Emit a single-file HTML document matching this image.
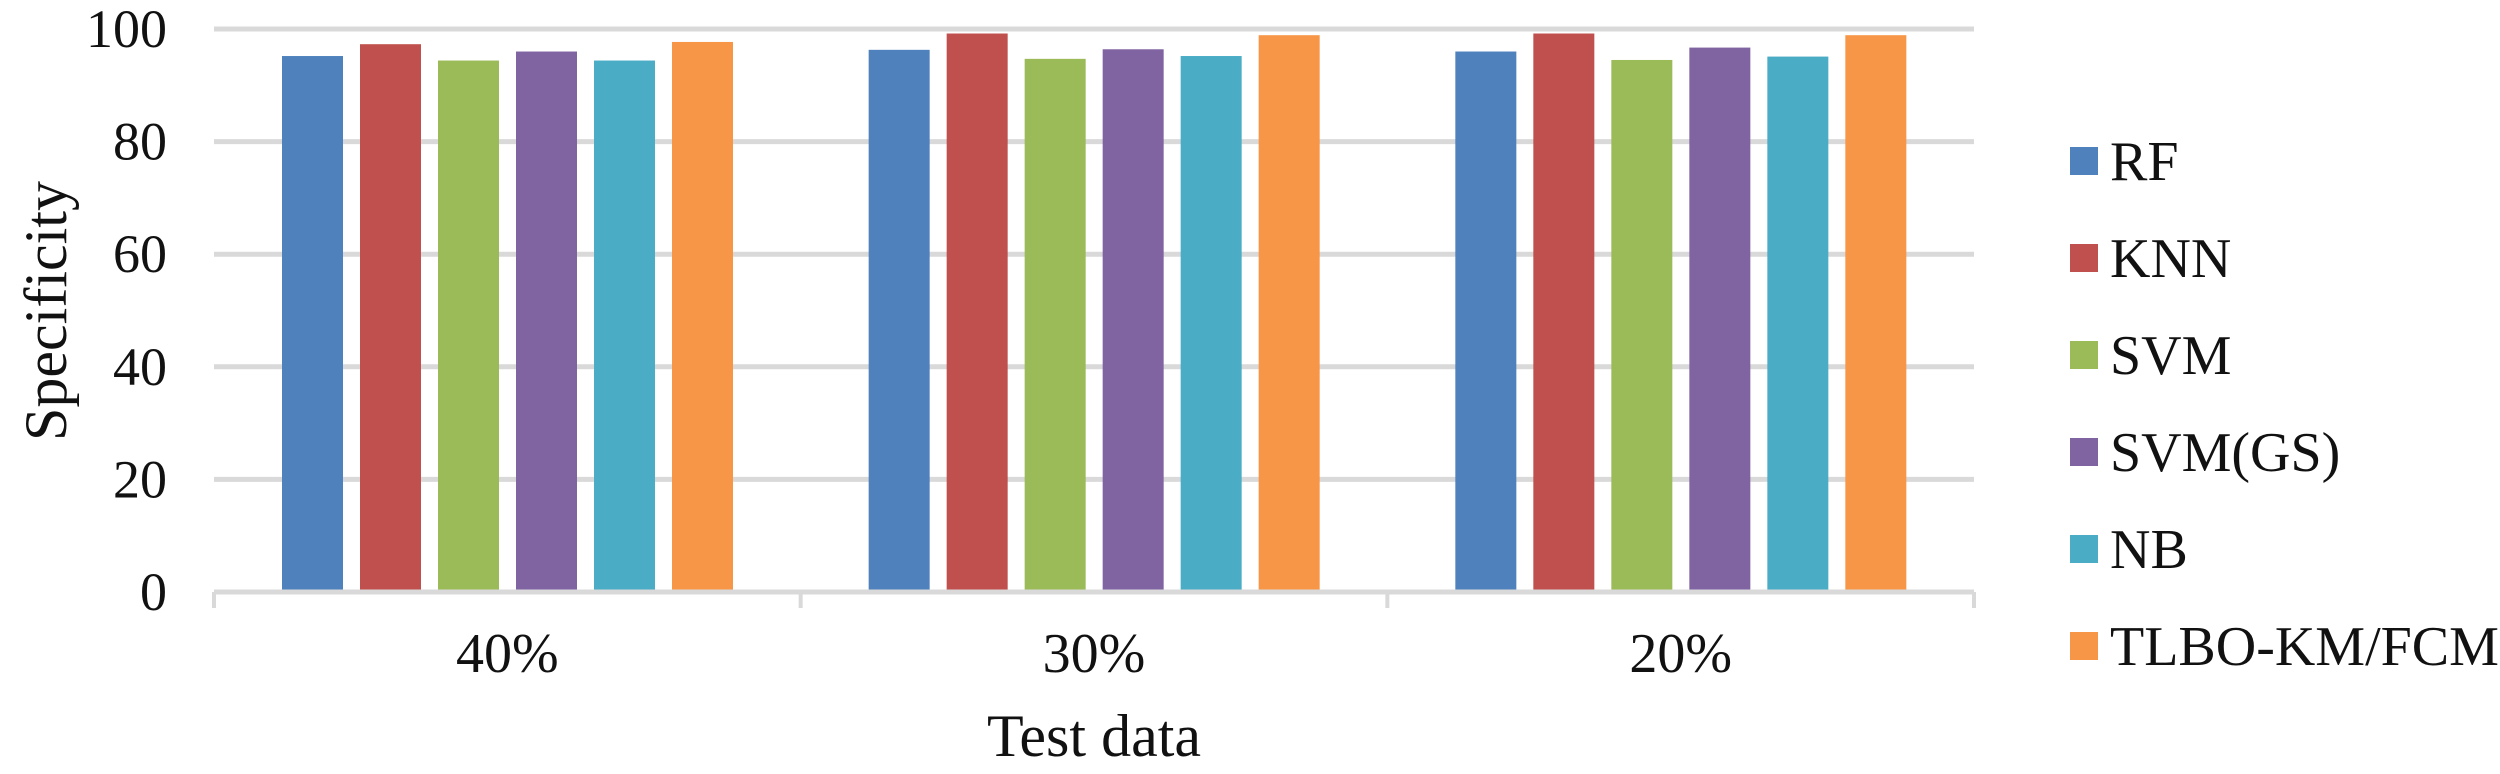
<!DOCTYPE html>
<html><head><meta charset="utf-8"><style>
body{margin:0;background:#fff}
svg text{font-family:"Liberation Serif",serif;fill:#111}
</style></head><body>
<svg id="c" width="2500" height="769" xmlns="http://www.w3.org/2000/svg"></svg>
<script>
const categories=["40%","30%","20%"];
const seriesNames=["RF","KNN","SVM","SVM(GS)","NB","TLBO-KM/FCM"];
const colors=["#4f81bd","#c0504d","#9bbb59","#8064a2","#4bacc6","#f79646"];
const rf=[95.2,96.3,96.0];
const knn=[97.3,99.2,99.2];
const svm=[94.4,94.7,94.5];
const svmgs=[96.0,96.4,96.7];
const nb=[94.4,95.2,95.1];
const tlbo=[97.7,98.9,98.9];
const yTicks=[0,20,40,60,80,100];
const series=[rf,knn,svm,svmgs,nb,tlbo];
const NS="http://www.w3.org/2000/svg";
const svg=document.getElementById('c');
const L=214,R=1974,T=29,B=592;
const gw=(R-L)/categories.length;
const y=v=>B-(v/100)*(B-T);
const gx=i=>L+i*gw;
function mk(t,a,txt){const e=document.createElementNS(NS,t);for(const k in a)e.setAttribute(k,a[k]);if(txt!==undefined)e.textContent=txt;svg.appendChild(e);return e;}
yTicks.forEach(t=>{
 if(t>0){const g=mk('line',{x1:L,x2:R,y1:y(t),y2:y(t),stroke:'#d9d9d9','stroke-width':5});
 
 }
 const tl=mk('text',{x:167,y:y(t)+18,'text-anchor':'end','font-size':54},t);
 
 
});
categories.forEach((c,i)=>{
 series.forEach((s,j)=>{
  const r=mk('rect',{x:gx(i)+68+j*78,y:y(s[i]),width:61,height:B-y(s[i]),fill:colors[j]});
  
  
 });
 const cl=mk('text',{x:gx(i)+gw/2,y:672,'text-anchor':'middle','font-size':56},c);
 
 
});
const ax=mk('line',{x1:L,x2:R,y1:B,y2:B,stroke:'#d9d9d9','stroke-width':5});


for(let i=0;i<=categories.length;i++){
 const tk=mk('line',{x1:gx(i),x2:gx(i),y1:B,y2:608,stroke:'#d9d9d9','stroke-width':4});
 
 
}
const xt=mk('text',{x:1094,y:756,'text-anchor':'middle','font-size':60},'Test data');


const yt=mk('text',{x:0,y:0,'text-anchor':'middle','font-size':60,transform:'translate(66,311) rotate(-90)'},'Specificity');


seriesNames.forEach((n,j)=>{
 const cy=161+j*97;
 const sq=mk('rect',{x:2070,y:cy-14,width:28,height:28,fill:colors[j]});
 
 
 const lt=mk('text',{x:2110,y:cy+19,'font-size':56},n);
 
 
});
</script>
</body></html>
